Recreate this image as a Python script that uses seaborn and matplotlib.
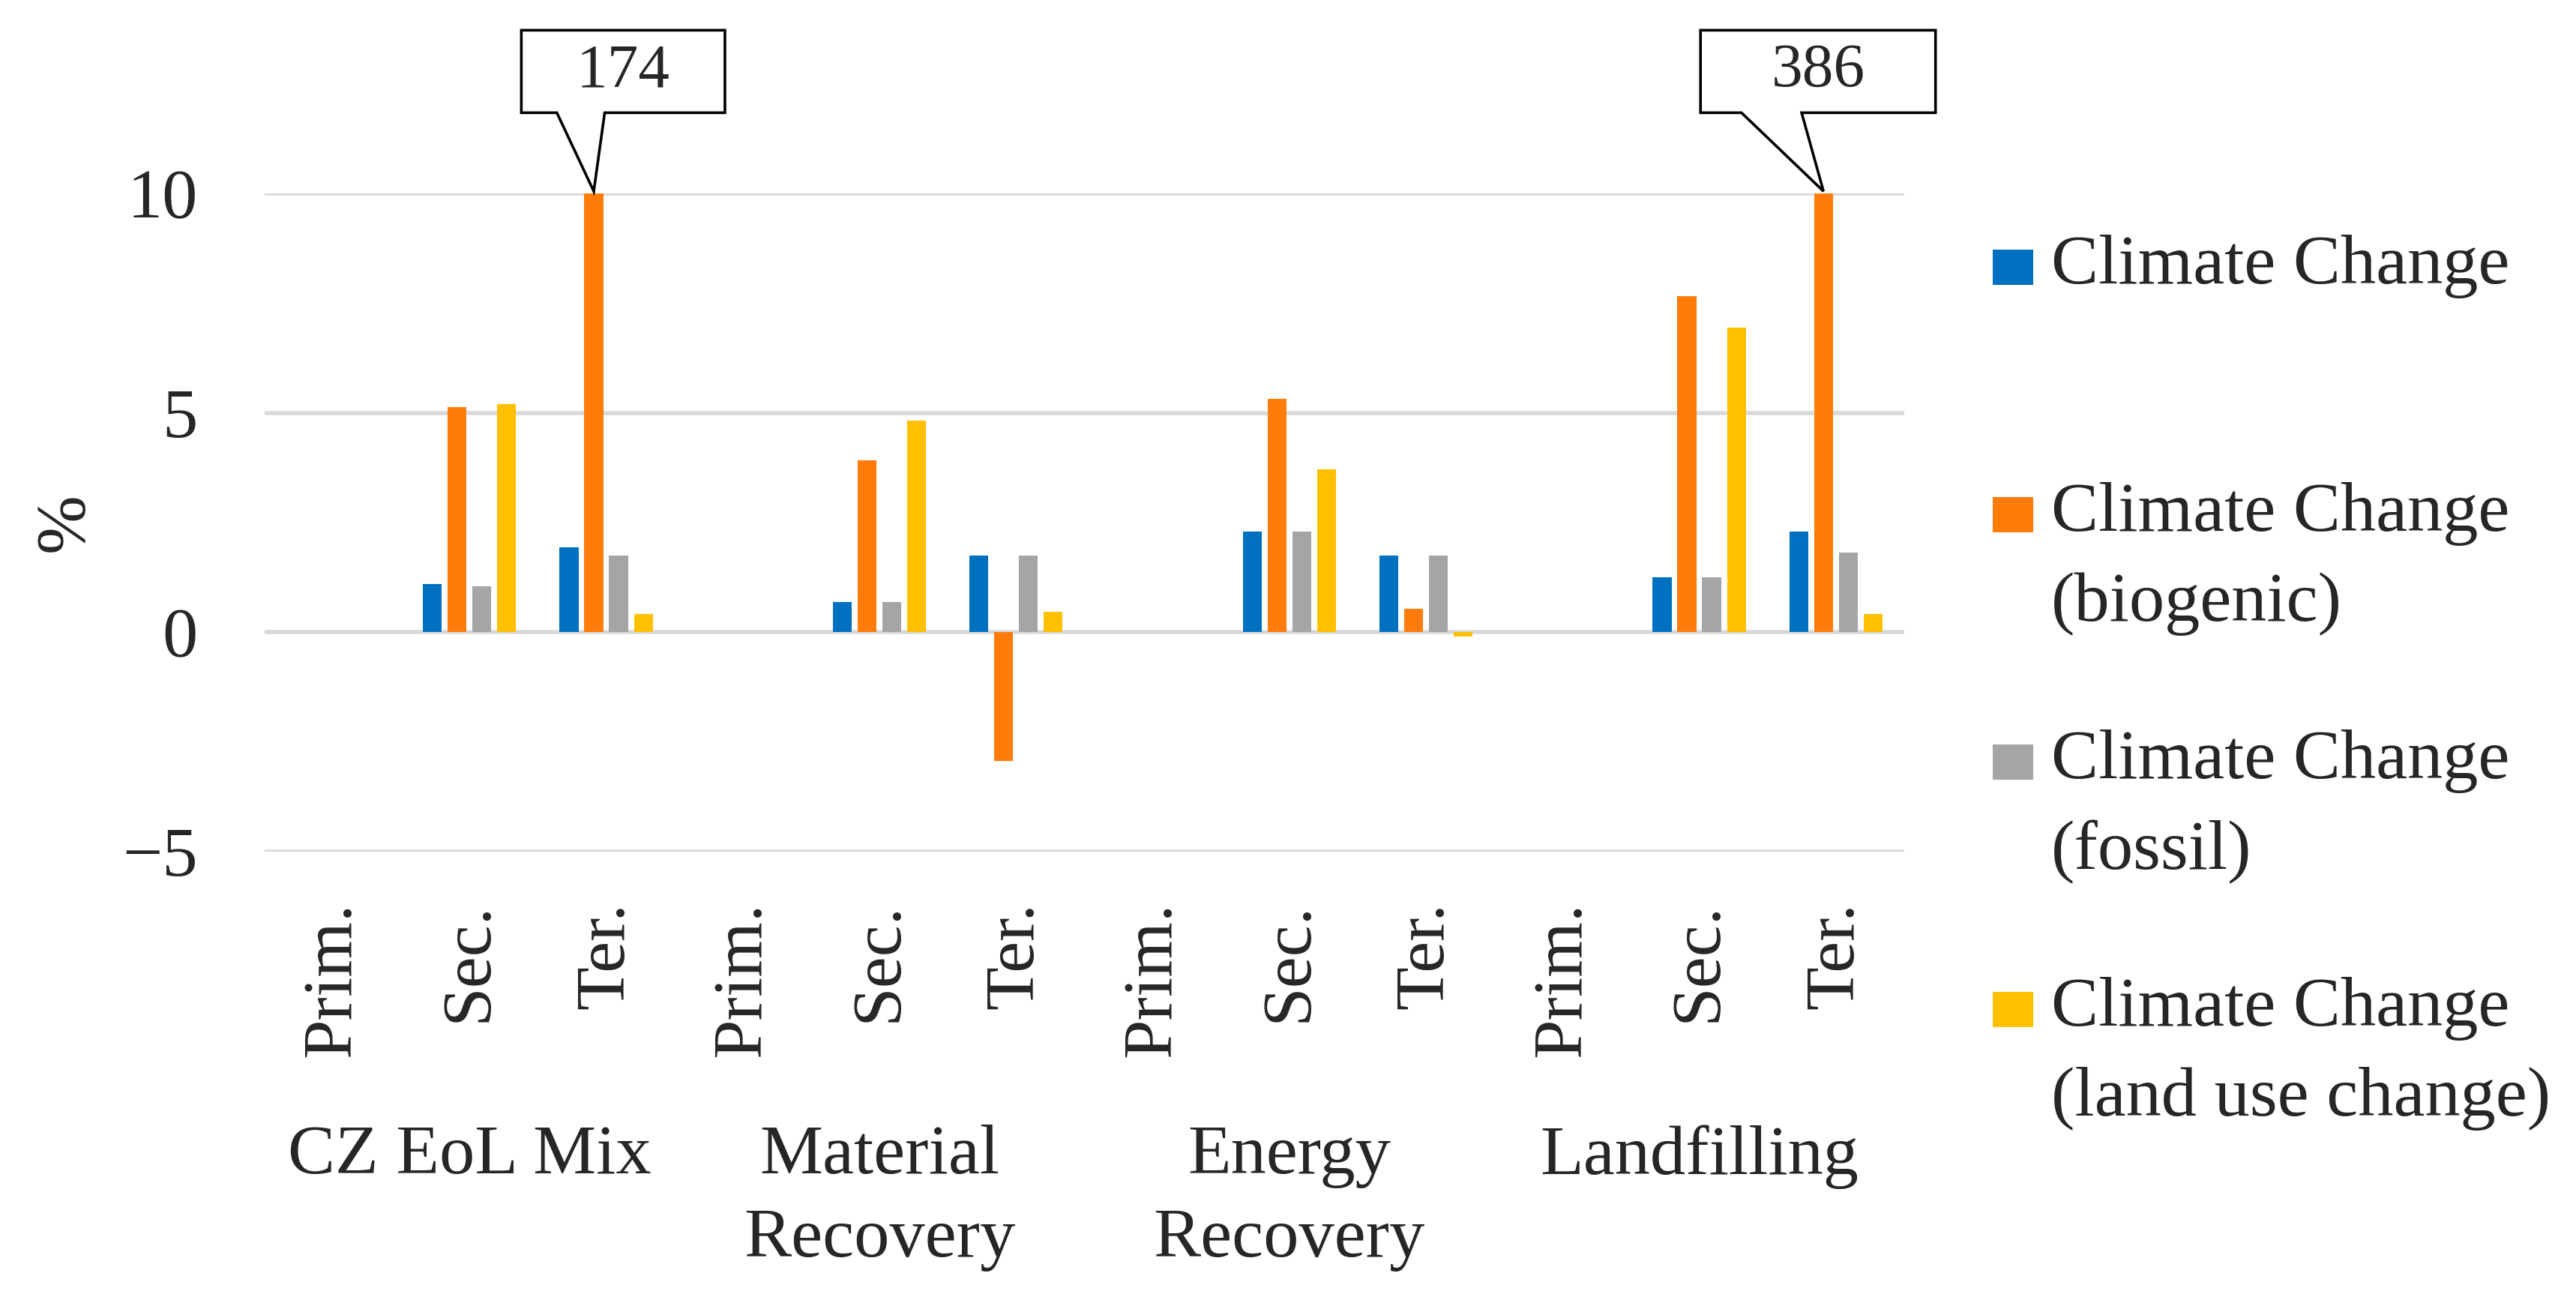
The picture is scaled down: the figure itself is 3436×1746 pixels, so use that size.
import numpy as np
import pandas as pd
import matplotlib.pyplot as plt
import seaborn as sns
from matplotlib.patches import Polygon, Rectangle

# dane (%)
groups = ["CZ EoL Mix", "Material\nRecovery", "Energy\nRecovery", "Landfilling"]
stages = ["Prim.", "Sec.", "Ter."]
series = ["Climate Change", "Climate Change\n(biogenic)",
          "Climate Change\n(fossil)", "Climate Change\n(land use change)"]
colors = ["#0070C0", "#FF7C0A", "#A5A5A5", "#FFC000"]

cc_total = [0, 1.10, 1.94, 0, 0.69, 1.75, 0, 2.30, 1.75, 0, 1.25, 2.30]
cc_biogenic = [0, 5.13, 174, 0, 3.92, -2.93, 0, 5.32, 0.54, 0, 7.66, 386]
cc_fossil = [0, 1.05, 1.75, 0, 0.69, 1.75, 0, 2.30, 1.75, 0, 1.25, 1.81]
cc_luc = [0, 5.20, 0.41, 0, 4.83, 0.47, 0, 3.72, -0.09, 0, 6.94, 0.41]

yticks = [-5, 0, 5, 10]

keys = [g + "|" + s for g in groups for s in stages]
rows = []
for name, vals in zip(series, [cc_total, cc_biogenic, cc_fossil, cc_luc]):
    for k, v in zip(keys, vals):
        rows.append({"key": k, "value": v, "series": name})
df = pd.DataFrame(rows)

sns.set_theme(style="white")
plt.rcParams["font.family"] = ["Liberation Serif", "DejaVu Serif"]
plt.rcParams["axes.unicode_minus"] = True

fig = plt.figure(figsize=(17.18, 8.73), dpi=200)
ax = fig.add_axes([0.1027, 0.3494, 0.6365, 0.5028])

sns.barplot(data=df, x="key", y="value", hue="series", order=keys,
            hue_order=series, palette=colors, saturation=1, width=0.725,
            gap=0.24, errorbar=None, legend=False, linewidth=0, ax=ax)

ax.set_ylim(-5, 10)
ax.set_xlim(-0.5, len(keys) - 0.5)
ax.set_yticks(yticks)
ax.set_yticklabels([str(t).replace("-", "\u2212") for t in yticks], fontsize=34)
ax.set_xticks(range(len(keys)))
ax.set_xticklabels([k.split("|")[1] for k in keys], rotation=90, fontsize=34,
                   va="top")
ax.tick_params(axis="y", length=0, pad=32)
ax.tick_params(axis="x", length=0, pad=24)
ax.grid(axis="y", color="#D9D9D9", lw=2)
ax.set_axisbelow(True)
for sp in ax.spines.values():
    sp.set_visible(False)
ax.set_xlabel("")
ax.set_ylabel("%", fontsize=34)
ax.yaxis.set_label_coords(-0.102, 0.5)

# etykiety grup pod osią
trans = ax.get_xaxis_transform()
for i, g in enumerate(groups):
    ax.text(i * 3 + 1, -0.415, g, transform=trans, ha="center", va="top",
            fontsize=34, linespacing=1.4)

# dymki z wartościami poza skalą
def callout(bar, text, left, right, bl, br):
    tip = bar.get_x() + bar.get_width() / 2
    bot, top = 11.84, 13.72
    pts = [(tip + left, top), (tip + right, top), (tip + right, bot),
           (tip + br, bot), (tip, 10.05), (tip + bl, bot), (tip + left, bot)]
    ax.add_patch(Polygon(pts, closed=True, facecolor="white", edgecolor="black",
                         lw=1.3, clip_on=False, zorder=5))
    ax.text(tip + (left + right) / 2, (bot + top) / 2, text, ha="center",
            va="center", fontsize=30, zorder=6, clip_on=False)

orange = ax.containers[1]
callout(orange[2], "174", -0.53, 0.96, -0.27, 0.08)
callout(orange[11], "386", -0.90, 0.82, -0.60, -0.16)

# legenda
for i, (name, c) in enumerate(zip(series, colors)):
    yc = 356 + 330 * i
    fig.add_artist(Rectangle((2658 / 3436, 1 - (yc + 24) / 1746), 54 / 3436,
                             47 / 1746, transform=fig.transFigure,
                             facecolor=c, edgecolor="none"))
    for j, line in enumerate(name.split("\n")):
        fig.text(2736 / 3436, 1 - (yc + 120 * j) / 1746, line, ha="left",
                 va="center", fontsize=34)

fig.savefig("out.png", dpi=200, facecolor="white")
